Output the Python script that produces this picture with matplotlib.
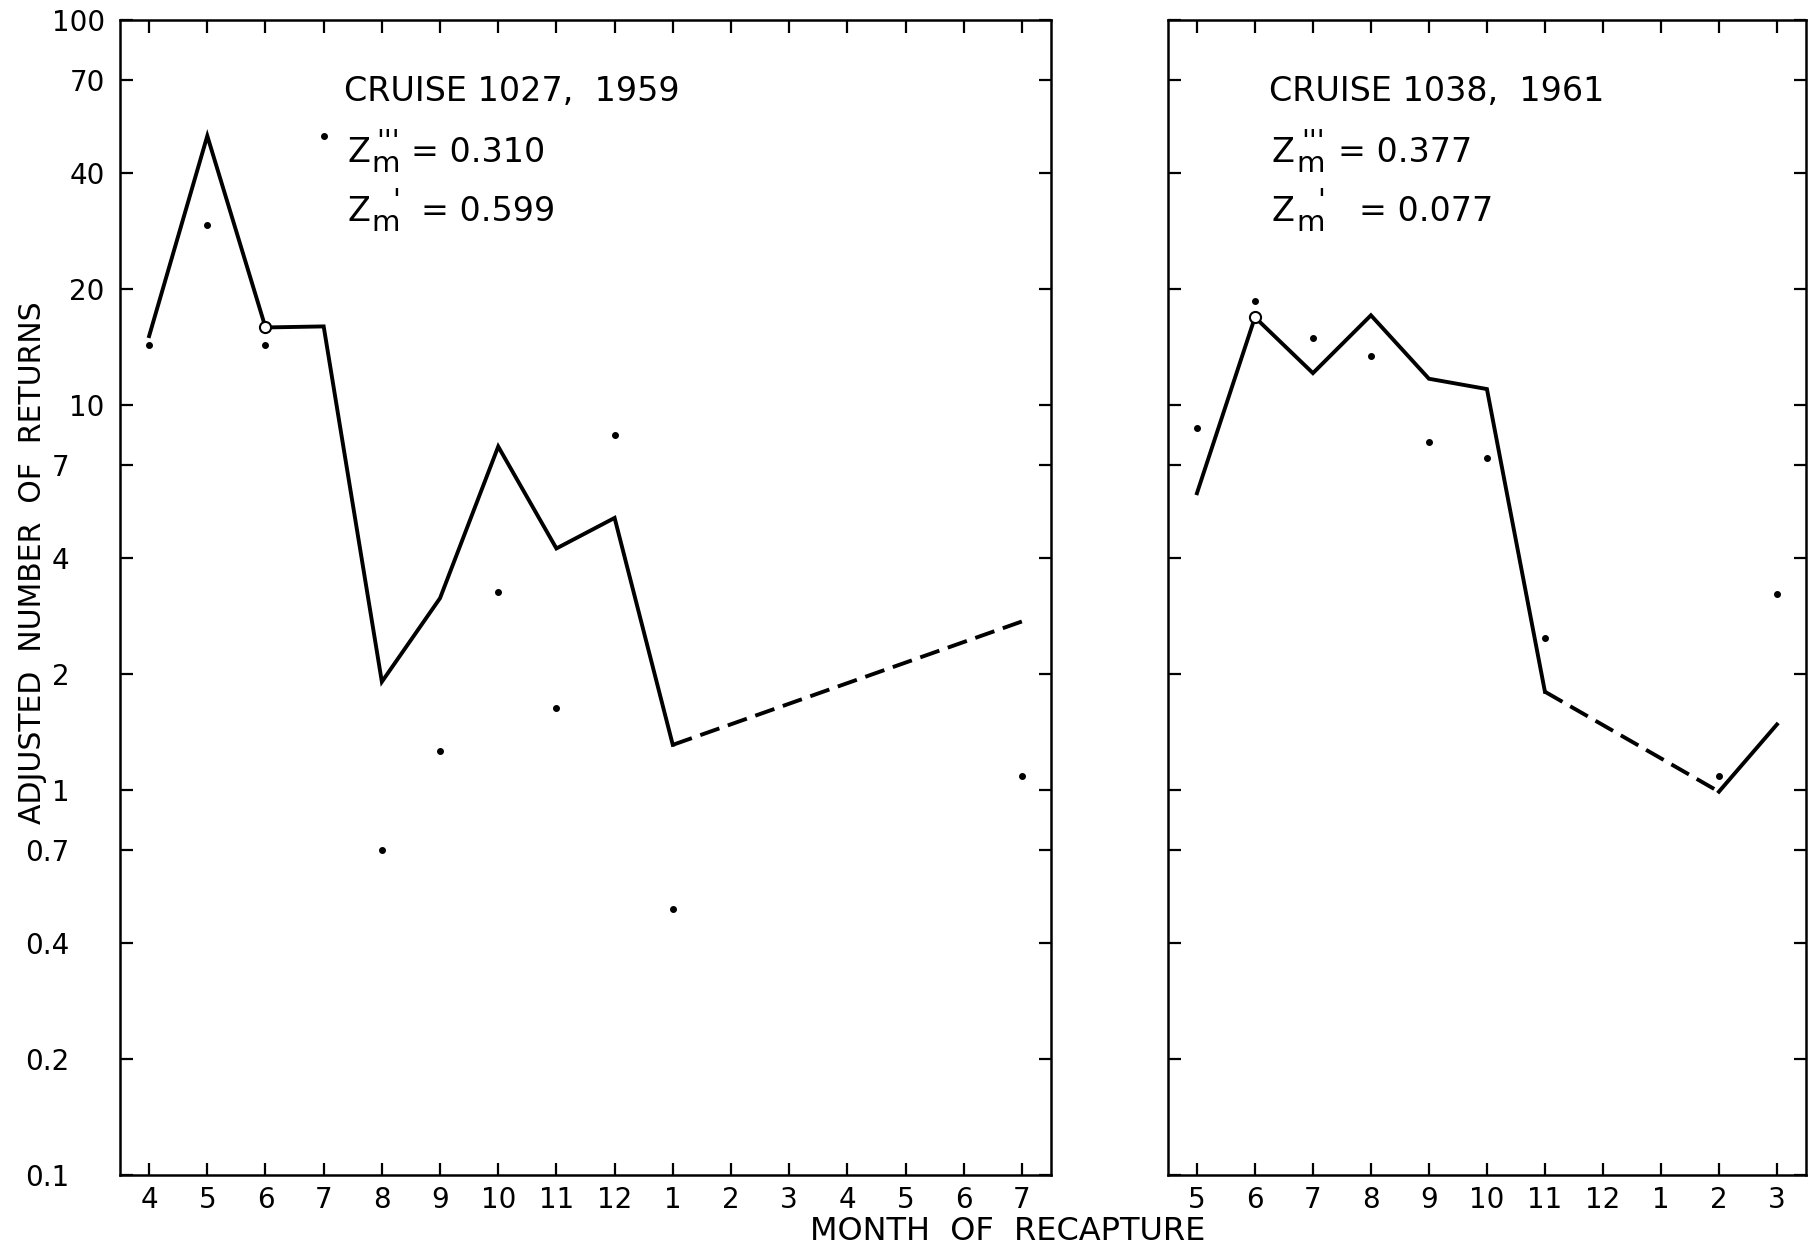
import matplotlib
matplotlib.use("Agg")
import matplotlib.pyplot as plt
from matplotlib.ticker import NullLocator, NullFormatter
import numpy as np

plt.rcParams.update({
    "font.family": "DejaVu Sans",
})

# Cruise 1027, 1959: months Apr 1959 .. Jul 1960
months_1027 = ["4", "5", "6", "7", "8", "9", "10", "11", "12", "1", "2", "3", "4", "5", "6", "7"]
fit_1027 = [15.1, 50.0, 15.9, 16.0, 1.91, 3.15, 7.8, 4.24, 5.09, 1.31]
fit_1027_gap = [1.31, 2.74]          # dashed bridge, Jan -> Jul
fit_1027_gap_pos = [9, 15]
obs_1027_pos = [0, 1, 2, 3, 4, 5, 6, 7, 8, 9, 15]
obs_1027 = [14.3, 29.4, 14.3, 50.0, 0.70, 1.26, 3.27, 1.63, 8.35, 0.49, 1.09]

# Cruise 1038, 1961: months May 1961 .. Mar 1962
months_1038 = ["5", "6", "7", "8", "9", "10", "11", "12", "1", "2", "3"]
fit_1038 = [5.9, 16.9, 12.1, 17.1, 11.7, 11.0, 1.80]
fit_1038_gap = [1.80, 0.99]          # dashed bridge, Nov -> Feb
fit_1038_gap_pos = [6, 9]
fit_1038_tail = [0.99, 1.48]
fit_1038_tail_pos = [9, 10]
obs_1038_pos = [0, 1, 2, 3, 4, 5, 6, 9, 10]
obs_1038 = [8.7, 18.6, 14.9, 13.4, 8.0, 7.3, 2.48, 1.09, 3.22]

ytick_vals = [100, 70, 40, 20, 10, 7, 4, 2, 1, 0.7, 0.4, 0.2, 0.1]
ytick_labels = ["100", "70", "40", "20", "10", "7", "4", "2", "1", "0.7", "0.4", "0.2", "0.1"]

LW = 2.8
DASH = (5.2, 2.3)
FS = 24

fig = plt.figure(figsize=(18.13, 12.5), dpi=100)
ax1 = fig.add_axes([0.0662, 0.060, 0.5135, 0.924])
ax2 = fig.add_axes([0.6442, 0.060, 0.3519, 0.924])


def style_axis(ax, labels):
    ax.set_yscale("log")
    ax.set_ylim(0.1, 100)
    ax.set_xlim(-0.5, len(labels) - 0.5)
    ax.set_xticks(np.arange(len(labels)))
    ax.set_xticklabels(labels)
    ax.set_yticks(ytick_vals)
    ax.yaxis.set_minor_locator(NullLocator())
    ax.tick_params(which="major", direction="in", length=9, width=1.6,
                   top=True, right=True, labelsize=20)
    ax.tick_params(axis="x", pad=8)
    ax.tick_params(axis="y", pad=11)
    for s in ax.spines.values():
        s.set_linewidth(1.8)


style_axis(ax1, months_1027)
style_axis(ax2, months_1038)
ax2.set_yticklabels([])

# labels from 10 up sit next to the axis, the smaller ones further out
big = [(v, t) for v, t in zip(ytick_vals, ytick_labels) if v >= 10]
small = [(v, t) for v, t in zip(ytick_vals, ytick_labels) if v < 10]
ax1.set_yticklabels([t if v >= 10 else "" for v, t in zip(ytick_vals, ytick_labels)])
sec = ax1.secondary_yaxis(-0.038)
sec.set_yticks([v for v, _ in small], labels=[t for _, t in small])
sec.yaxis.set_minor_locator(NullLocator())
sec.yaxis.set_minor_formatter(NullFormatter())
sec.tick_params(which="both", length=0, labelsize=20, pad=11)
sec.spines["left"].set_visible(False)


def z_line(ax, x, y, primes, value, vx):
    ax.text(x, y, "Z", fontsize=FS, transform=ax.transAxes)
    # primes stacked over the subscript m
    ax.annotate(primes + "\nm", (x, y), xycoords="axes fraction",
                xytext=(17.5, -11.4), textcoords="offset points",
                fontsize=21, va="bottom", ha="left",
                multialignment="right", linespacing=0.71)
    ax.text(vx, y, "= " + value, fontsize=FS, transform=ax.transAxes)


# cruise 1027
x = np.arange(len(fit_1027))
ax1.plot(x, fit_1027, color="black", lw=LW, solid_joinstyle="miter")
ax1.plot(fit_1027_gap_pos, fit_1027_gap, color="black", lw=LW, dashes=DASH)
ax1.plot(obs_1027_pos, obs_1027, "o", color="black", ms=4, ls="none")
ax1.plot([2], [fit_1027[2]], "o", mfc="white", mec="black", mew=1.5, ms=8, zorder=5)

ax1.text(0.241, 0.930, "CRUISE 1027,  1959", transform=ax1.transAxes, fontsize=FS)
z_line(ax1, 0.244, 0.877, "'''", "0.310", 0.313)
z_line(ax1, 0.244, 0.826, "'", "0.599", 0.323)

# cruise 1038
x = np.arange(len(fit_1038))
ax2.plot(x, fit_1038, color="black", lw=LW, solid_joinstyle="miter")
ax2.plot(fit_1038_gap_pos, fit_1038_gap, color="black", lw=LW, dashes=DASH)
ax2.plot(fit_1038_tail_pos, fit_1038_tail, color="black", lw=LW)
ax2.plot(obs_1038_pos, obs_1038, "o", color="black", ms=4, ls="none")
ax2.plot([1], [fit_1038[1]], "o", mfc="white", mec="black", mew=1.5, ms=8, zorder=5)

ax2.text(0.159, 0.930, "CRUISE 1038,  1961", transform=ax2.transAxes, fontsize=FS)
z_line(ax2, 0.163, 0.877, "'''", "0.377", 0.266)
z_line(ax2, 0.163, 0.826, "'", "0.077", 0.299)

fig.text(0.018, 0.55, "ADJUSTED  NUMBER  OF  RETURNS", rotation=90,
         ha="center", va="center", fontsize=21.5)
fig.text(0.556, 0.0145, "MONTH  OF  RECAPTURE",
         ha="center", va="center", fontsize=23)

fig.savefig("out.png", dpi=100)
